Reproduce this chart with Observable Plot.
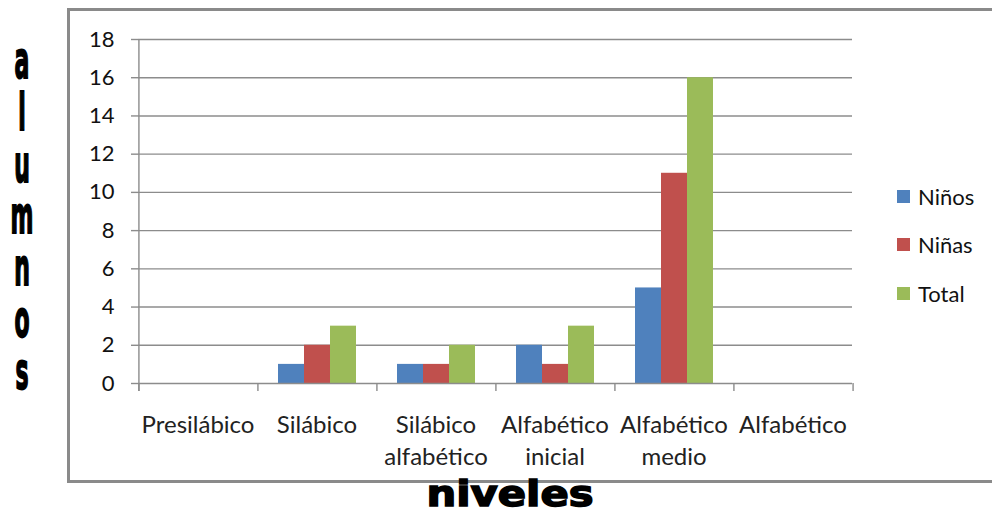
<!DOCTYPE html>
<html>
<head>
<meta charset="utf-8">
<script src="https://cdn.jsdelivr.net/npm/d3@7"></script>
<script src="https://cdn.jsdelivr.net/npm/@observablehq/plot@0.6"></script>
<style>
  html, body { margin: 0; padding: 0; background: #fff; }
  body { position: relative; width: 992px; height: 510px; overflow: hidden; font-family: Lato, "Open Sans", sans-serif; }
  #chart { position: absolute; left: 0; top: 0; }
  #frame { position: absolute; left: 67px; top: 8px; width: 960px; height: 475px; border: 3px solid #8a8a8a; box-sizing: border-box; pointer-events: none; }
  #ylabel { position: absolute; left: -18px; top: 35px; width: 80px; text-align: center; white-space: pre-line;
    font-family: "DejaVu Sans", sans-serif; font-weight: bold; font-size: 40px; line-height: 39.8px; color: #000;
    transform: scale(0.55, 1.3); transform-origin: 50% 0; -webkit-text-stroke: 1.5px #000; }
  #xlabel { position: absolute; left: 390px; top: 479px; width: 240px; height: 30px; text-align: center; font-family: "DejaVu Sans", sans-serif; font-weight: bold; font-size: 36px; line-height: 30px; color: #000; }
  #xlabel span { display: inline-block; transform: scaleX(1.16); -webkit-text-stroke: 1.5px #000; }
  #legend { position: absolute; left: 897px; top: 172px; font-size: 22px; color: #111; }
  #legend .item { display: flex; align-items: center; height: 48.5px; }
  #legend .sw { width: 13px; height: 13px; margin-right: 8px; }
</style>
</head>
<body>
<div id="chart"></div>
<div id="frame"></div>
<div id="ylabel"></div>
<div id="xlabel"><span>niveles</span></div>
<div id="legend"></div>
<script>
// Reading levels (categories) and pupil counts per group
const niveles = ["Presilábico", "Silábico", "Silábico alfabético", "Alfabético inicial", "Alfabético medio", "Alfabético"];
const series = ["Niños", "Niñas", "Total"];
const ninos = [0, 1, 1, 2, 5, 0];
const ninas = [0, 2, 1, 1, 11, 0];
const total = [0, 3, 2, 3, 16, 0];
const colors = ["#4F81BD", "#C0504D", "#9BBB59"];
const yTicks = [0, 2, 4, 6, 8, 10, 12, 14, 16, 18];
const yTitle = "alumnos";

const values = [ninos, ninas, total];
const rows = niveles.flatMap((nivel, i) =>
  series.map((serie, k) => ({nivel, serie, valor: values[k][i]}))
);

const W = 992, H = 460, ML = 137, MR = 140, MT = 39, MB = 77;
const facetW = (W - ML - MR) / niveles.length;
const grey = "#8c8c8c";
const below = -0.42; // category tick length, in y units below the baseline

const chart = Plot.plot({
  width: W,
  height: H,
  marginLeft: ML,
  marginRight: MR,
  marginTop: MT,
  marginBottom: MB,
  style: {fontFamily: "Lato, sans-serif", fontSize: "22px", color: "#000", background: "transparent", overflow: "visible"},
  fx: {domain: niveles, padding: 0, label: null},
  x: {domain: series, paddingInner: 0, paddingOuter: 0.75, axis: null},
  y: {domain: [0, 18], label: null},
  color: {domain: series, range: colors},
  marks: [
    // horizontal gridlines
    Plot.ruleY(yTicks.slice(1), {stroke: grey, strokeWidth: 1.4}),
    Plot.axisY({ticks: yTicks, tickSize: 7, tickPadding: 17, stroke: grey, strokeWidth: 1.4, fill: "#111", fontSize: 22, label: null}),
    Plot.axisFx({anchor: "bottom", tickSize: 0, tickPadding: 27, lineHeight: 1.33, fontSize: 24, fill: "#222",
      tickFormat: d => d.replace(" ", "\n"), label: null}),
    Plot.barY(rows, {fx: "nivel", x: "serie", y: "valor", fill: "serie"}),
    // baseline and category boundary ticks
    Plot.ruleY([0], {stroke: grey, strokeWidth: 1.4}),
    Plot.ruleX(niveles, {fx: d => d, x: () => series[1], y1: below, y2: 0, dx: -facetW / 2, stroke: grey, strokeWidth: 1.4}),
    Plot.ruleX(niveles.slice(-1), {fx: d => d, x: () => series[1], y1: below, y2: 0, dx: facetW / 2, stroke: grey, strokeWidth: 1.4}),
    // vertical value axis line
    Plot.ruleX(niveles.slice(0, 1), {fx: d => d, x: () => series[1], y1: below, y2: 18, dx: -facetW / 2, stroke: grey, strokeWidth: 1.4})
  ]
});
document.getElementById("chart").append(chart);

// vertical axis title, one letter per line
document.getElementById("ylabel").textContent = yTitle.split("").join("\n");

// legend
const lg = document.getElementById("legend");
series.forEach((s, k) => {
  const item = document.createElement("div");
  item.className = "item";
  const sw = document.createElement("div");
  sw.className = "sw";
  sw.style.background = colors[k];
  const label = document.createElement("span");
  label.textContent = s;
  item.append(sw, label);
  lg.append(item);
});
</script>
</body>
</html>
